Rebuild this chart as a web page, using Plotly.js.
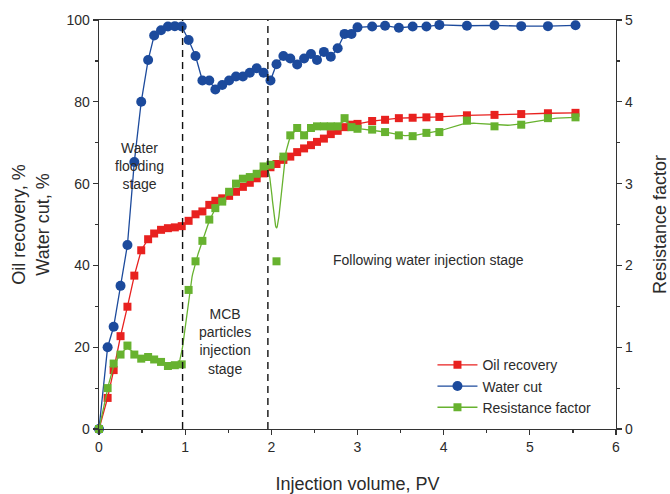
<!DOCTYPE html>
<html>
<head>
<meta charset="utf-8">
<script src="https://cdn.plot.ly/plotly-3.0.1.min.js"></script>
<style>html,body{margin:0;padding:0;background:#fff;}#chart{width:670px;height:494px;}</style>
</head>
<body>
<div id="chart"></div>
<script>
// Injection volume, PV (shared by all three series)
const injectionPV = [0, 0.10, 0.17, 0.25, 0.33, 0.41, 0.49, 0.57, 0.64, 0.72, 0.80, 0.88, 0.96,
  1.04, 1.12, 1.20, 1.28, 1.35, 1.43, 1.51, 1.59, 1.67, 1.75, 1.83, 1.91, 1.99,
  2.06, 2.14, 2.22, 2.30, 2.38, 2.46, 2.53, 2.61, 2.69, 2.77, 2.85, 2.93, 3.00,
  3.17, 3.32, 3.48, 3.64, 3.80, 3.95, 4.27, 4.59, 4.90, 5.21, 5.53];
// Oil recovery, %
const oilRecovery = [0, 7.6, 14.4, 22.7, 29.9, 37.5, 43.7, 46.4, 47.8, 48.7, 49.1, 49.3, 49.6,
  50.9, 52.5, 53.2, 54.8, 55.8, 56.4, 57.0, 58.0, 59.2, 60.2, 61.3, 62.5, 64.0,
  64.8, 65.8, 66.6, 67.7, 68.6, 69.4, 70.2, 71.0, 72.1, 72.9, 73.8, 74.4, 74.6,
  75.3, 75.6, 76.0, 76.1, 76.2, 76.3, 76.7, 76.8, 77.0, 77.2, 77.3];
// Water cut, %
const waterCut = [0, 20, 25, 35, 45, 65.3, 80, 90.2, 96.2, 97.5, 98.4, 98.5, 98.4,
  95.1, 91.2, 85.2, 85.2, 83.0, 84.1, 85.2, 86.2, 86.2, 87.1, 88.2, 87.1, 85.2,
  89.2, 91.2, 90.6, 89.1, 90.6, 91.7, 90.2, 92.2, 91.0, 93.1, 96.6, 96.6, 98.2,
  98.4, 98.6, 98.1, 98.4, 98.4, 98.8, 98.6, 98.7, 98.5, 98.5, 98.7];
// Resistance factor
const resistanceFactor = [0, 0.50, 0.80, 0.91, 1.02, 0.91, 0.86, 0.88, 0.85, 0.82, 0.77, 0.78, 0.79,
  1.70, 2.05, 2.30, 2.56, 2.70, 2.78, 2.90, 3.00, 3.06, 3.08, 3.12, 3.21, 3.23,
  2.05, 3.33, 3.59, 3.68, 3.59, 3.68, 3.70, 3.70, 3.70, 3.70, 3.80, 3.69, 3.67,
  3.66, 3.63, 3.59, 3.58, 3.62, 3.63, 3.77, 3.70, 3.72, 3.80, 3.81];
// Stage boundaries, PV
const stageBounds = [0.97, 1.96];
const seriesNames = ['Oil recovery', 'Water cut', 'Resistance factor'];

// Uniform cubic B-spline with the data points as control points (clamped ends)
function bspline(xs, ys, n) {
  const px = [xs[0], xs[0]].concat(xs, [xs[xs.length-1], xs[xs.length-1]]);
  const py = [ys[0], ys[0]].concat(ys, [ys[ys.length-1], ys[ys.length-1]]);
  const ox = [], oy = [];
  for (let i = 1; i < px.length - 2; i++) {
    for (let k = 0; k < n; k++) {
      const t = k / n, t2 = t*t, t3 = t2*t;
      const b0 = (1-t)*(1-t)*(1-t)/6, b1 = (3*t3 - 6*t2 + 4)/6,
            b2 = (-3*t3 + 3*t2 + 3*t + 1)/6, b3 = t3/6;
      ox.push(b0*px[i-1] + b1*px[i] + b2*px[i+1] + b3*px[i+2]);
      oy.push(b0*py[i-1] + b1*py[i] + b2*py[i+1] + b3*py[i+2]);
    }
  }
  ox.push(xs[xs.length-1]); oy.push(ys[ys.length-1]);
  return {x: ox, y: oy};
}

const RED = '#e8211f', BLUE = '#1c4a9c', GREEN = '#67b22f';
const curve = bspline(injectionPV, resistanceFactor, 12);

const traces = [
  {x: injectionPV, y: waterCut, name: seriesNames[1], mode: 'lines+markers', legendrank: 2,
   line: {color: BLUE, width: 1.3}, marker: {symbol: 'circle', size: 10, color: BLUE}, cliponaxis: false},
  {x: injectionPV, y: oilRecovery, name: seriesNames[0], mode: 'lines+markers', legendrank: 1,
   line: {color: RED, width: 1.3}, marker: {symbol: 'square', size: 8, color: RED}, cliponaxis: false},
  {x: curve.x, y: curve.y, yaxis: 'y2', mode: 'lines', showlegend: false,
   line: {color: GREEN, width: 1.3}, hoverinfo: 'skip'},
  {x: injectionPV, y: resistanceFactor, yaxis: 'y2', mode: 'markers', showlegend: false,
   marker: {symbol: 'square', size: 8, color: GREEN}, cliponaxis: false},
  {x: [null], y: [null], yaxis: 'y2', name: seriesNames[2], mode: 'lines+markers', legendrank: 3,
   line: {color: GREEN, width: 1.3}, marker: {symbol: 'square', size: 8, color: GREEN}}
];

const FONT = 'Arial, "Liberation Sans", sans-serif';
const TXT = '#2b2b2b';
const axisCommon = {
  showgrid: false, zeroline: false, showline: true, linecolor: '#333', linewidth: 1.3,
  ticks: 'outside', ticklen: 5, tickwidth: 1.2, tickcolor: '#333',
  tickfont: {family: FONT, size: 14, color: TXT}
};

const layout = {
  width: 670, height: 494,
  margin: {l: 99, r: 54, t: 20, b: 65},
  paper_bgcolor: '#fff', plot_bgcolor: '#fff',
  font: {family: FONT, color: TXT},
  showlegend: true,
  legend: {x: 0.645, y: 0.195, xanchor: 'left', yanchor: 'top', bgcolor: 'rgba(0,0,0,0)',
           font: {family: FONT, size: 14, color: TXT}, tracegroupgap: 0, itemwidth: 40},
  xaxis: Object.assign({}, axisCommon, {
    range: [0, 6], dtick: 1, tick0: 0, mirror: true,
    minor: {dtick: 0.5, ticks: 'outside', ticklen: 3, tickcolor: '#333'},
    title: {text: 'Injection volume, PV', font: {family: FONT, size: 18, color: TXT}, standoff: 26}
  }),
  yaxis: Object.assign({}, axisCommon, {
    range: [0, 100], dtick: 20, tick0: 0,
    minor: {dtick: 10, ticks: 'outside', ticklen: 3, tickcolor: '#333'},
    title: {text: 'Oil recovery, %<br>Water cut, %', font: {family: FONT, size: 18, color: TXT}, standoff: 12}
  }),
  yaxis2: Object.assign({}, axisCommon, {
    overlaying: 'y', side: 'right', range: [0, 5], dtick: 1, tick0: 0,
    minor: {dtick: 0.5, ticks: 'outside', ticklen: 3, tickcolor: '#333'},
    title: {text: 'Resistance factor', font: {family: FONT, size: 18, color: TXT}, standoff: 21}
  }),
  shapes: stageBounds.map(v => ({type: 'line', xref: 'x', yref: 'paper', x0: v, x1: v, y0: 0, y1: 1,
    line: {color: '#111', width: 1.4, dash: '7px,5px'}})),
  annotations: [
    {x: 0.475, y: 64.3, xref: 'x', yref: 'y', text: 'Water<br>flooding<br>stage', showarrow: false,
     font: {family: FONT, size: 14, color: TXT}, align: 'center'},
    {x: 1.46, y: 21.5, xref: 'x', yref: 'y', text: 'MCB<br>particles<br>injection<br>stage', showarrow: false,
     font: {family: FONT, size: 14, color: TXT}, align: 'center'},
    {x: 3.82, y: 41.3, xref: 'x', yref: 'y', text: 'Following water injection stage', showarrow: false,
     font: {family: FONT, size: 14, color: TXT}}
  ]
};

Plotly.newPlot('chart', traces, layout, {displayModeBar: false, staticPlot: true});
</script>
</body>
</html>
